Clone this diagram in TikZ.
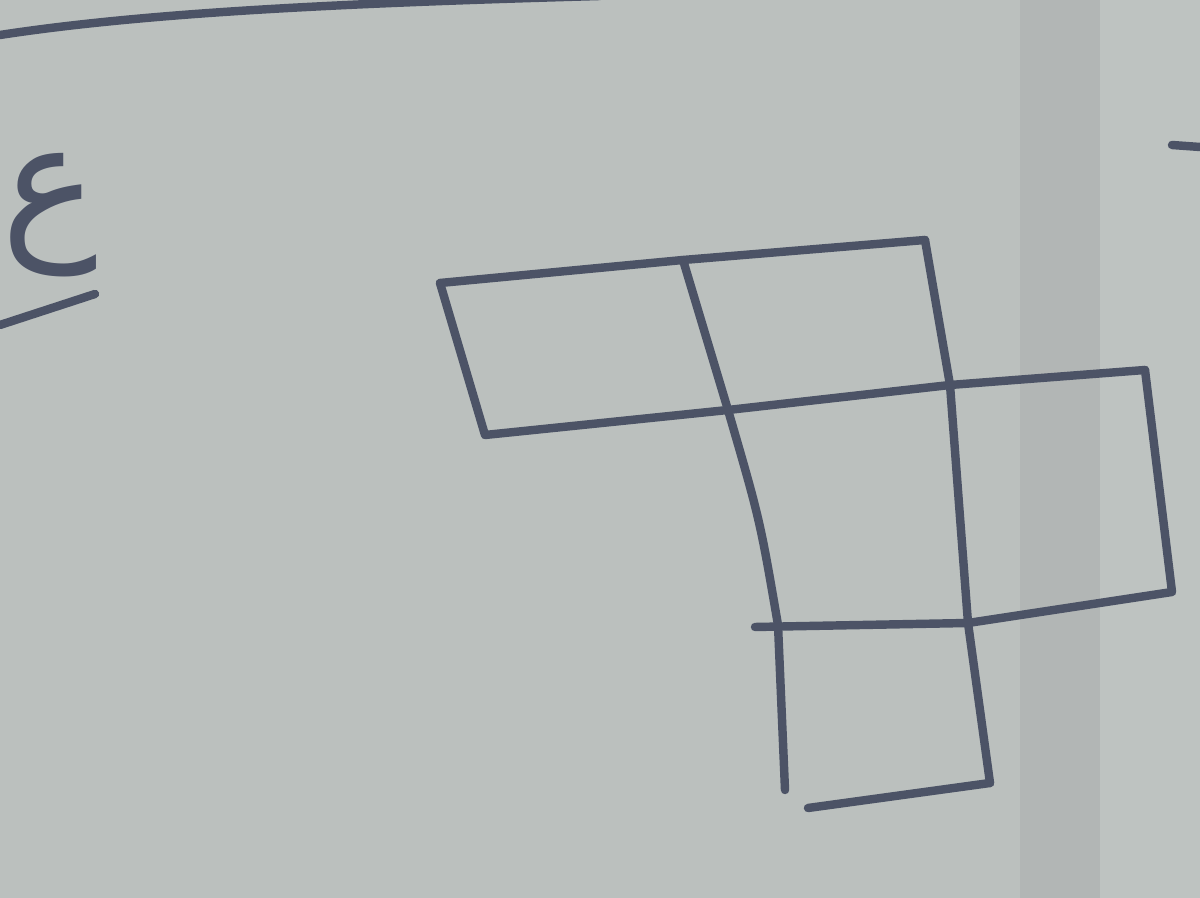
\documentclass[tikz,border=0pt]{standalone}
\usepackage{fontspec}
\newfontfamily\arabicfont[Script=Arabic]{DejaVu Sans}
\TeXXeTstate=1
\usetikzlibrary{positioning}
\definecolor{ink}{HTML}{4C5366}
\definecolor{paper}{HTML}{BBC0BE}
\tikzset{pen/.style={draw=ink, line width=2.4pt, line cap=round, line join=round}}

\begin{document}
\begin{tikzpicture}[x=0.01cm, y=-0.01cm]
  \useasboundingbox (0,0) rectangle (1200,898);
  % paper
  \fill[paper] (0,0) rectangle (1200,898);
  \fill[paper!95!black] (1020,0) rectangle (1100,898);
  \fill[paper!96!white] (1100,0) rectangle (1200,898);
  % margin line and mark
  \draw[pen] (0,35) .. controls (150,12) and (350,3) .. (600,-4);
  \node[text=ink, font=\arabicfont\fontsize{46}{52}\selectfont] (ein) at (50,215) {\beginR ع\endR};
  \coordinate (u1) at (0,325);
  \coordinate (u2) at (95,294);
  \draw[pen] (u1) -- (u2);
  \coordinate (d1) at (1172,145);
  \coordinate (d2) at (1200,147);
  \draw[pen] (d1) -- (d2);
  % corners of the net
  \coordinate (a) at (440,283);
  \coordinate (b) at (683,260);
  \coordinate (c) at (925,240);
  \coordinate (d) at (485,435);
  \coordinate (e) at (728,410);
  \coordinate (f) at (950,385);
  \coordinate (g) at (1145,370);
  \coordinate (h) at (1172,592);
  \coordinate (i) at (968,623);
  \coordinate (j) at (778,625);
  \coordinate (k) at (755,627);
  \coordinate (l) at (785,790);
  \coordinate (m) at (990,783);
  \coordinate (n) at (808,808);
  % net
  \draw[pen] (a) -- (b) -- (c);
  \draw[pen] (a) -- (d) -- (e) -- (f) -- (g);
  \draw[pen] (c) -- (f) -- (i) -- (m);
  \draw[pen] (b) -- (e) .. controls (760,520) .. (j) -- (l);
  \draw[pen] (g) -- (h) -- (i) -- (k);
  \draw[pen] (n) -- (m);
\end{tikzpicture}
\end{document}
